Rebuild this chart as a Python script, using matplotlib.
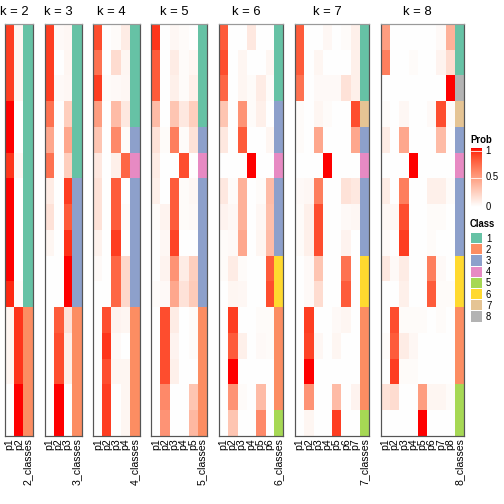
import numpy as np
import matplotlib
matplotlib.use('Agg')
import matplotlib.pyplot as plt
from matplotlib.colors import ListedColormap

plt.rcParams['font.family'] = ['Liberation Sans', 'DejaVu Sans']

# membership probabilities, one row per sample, one column per class
p_k2 = [[0.9, 0.05], [0.9, 0.05], [0.9, 0.05], [1.0, 0.0], [1.0, 0.0], [0.92, 0.04],
        [1.0, 0.0], [1.0, 0.0], [1.0, 0.0], [1.0, 0.0], [0.95, 0.02],
        [0.05, 0.92], [0.05, 0.92], [0.05, 0.92], [0.0, 1.0], [0.0, 1.0]]
cls_k2 = [1, 1, 1, 1, 1, 1, 1, 1, 1, 1, 1, 2, 2, 2, 2, 2]

p_k3 = [[0.9, 0.03, 0.04], [0.9, 0.0, 0.05], [0.9, 0.03, 0.04], [0.7, 0.0, 0.25],
        [0.45, 0.0, 0.45], [0.7, 0.0, 0.25], [0.1, 0.0, 0.9], [0.15, 0.0, 0.8],
        [0.05, 0.0, 0.93], [0.0, 0.0, 1.0], [0.0, 0.0, 1.0], [0.0, 0.8, 0.15],
        [0.0, 0.85, 0.08], [0.0, 0.85, 0.08], [0.0, 1.0, 0.0], [0.0, 1.0, 0.0]]
cls_k3 = [1, 1, 1, 1, 1, 1, 3, 3, 3, 3, 3, 2, 2, 2, 2, 2]

p_k4 = [[0.85, 0.0, 0.02, 0.1], [0.7, 0.0, 0.18, 0.05], [0.9, 0.02, 0.03, 0.04],
        [0.5, 0.0, 0.35, 0.12], [0.3, 0.0, 0.6, 0.02], [0.12, 0.0, 0.08, 0.75],
        [0.15, 0.0, 0.8, 0.0], [0.15, 0.0, 0.8, 0.02], [0.07, 0.0, 0.9, 0.0],
        [0.03, 0.0, 0.75, 0.2], [0.0, 0.0, 0.75, 0.2], [0.0, 0.85, 0.06, 0.05],
        [0.0, 0.92, 0.03, 0.0], [0.0, 0.85, 0.05, 0.05], [0.0, 0.9, 0.0, 0.05],
        [0.0, 0.9, 0.0, 0.05]]
cls_k4 = [1, 1, 1, 1, 3, 4, 3, 3, 3, 3, 3, 2, 2, 2, 2, 2]

p_k5 = [[0.92, 0.0, 0.04, 0.02, 0.0], [0.8, 0.0, 0.1, 0.02, 0.05],
        [0.8, 0.0, 0.08, 0.02, 0.08], [0.35, 0.0, 0.3, 0.12, 0.25],
        [0.15, 0.02, 0.65, 0.02, 0.15], [0.1, 0.0, 0.0, 0.85, 0.0],
        [0.08, 0.0, 0.8, 0.02, 0.04], [0.02, 0.06, 0.8, 0.02, 0.03],
        [0.0, 0.04, 0.88, 0.0, 0.0], [0.0, 0.06, 0.55, 0.1, 0.25],
        [0.02, 0.03, 0.45, 0.15, 0.27], [0.0, 0.85, 0.1, 0.0, 0.02],
        [0.0, 0.85, 0.06, 0.0, 0.02], [0.0, 0.85, 0.08, 0.0, 0.0],
        [0.0, 0.6, 0.0, 0.0, 0.3], [0.0, 0.55, 0.0, 0.0, 0.37]]
cls_k5 = [1, 1, 1, 1, 3, 4, 3, 3, 3, 3, 3, 2, 2, 2, 2, 2]

p_k6 = [[0.8, 0.0, 0.0, 0.12, 0.0, 0.0], [0.85, 0.0, 0.05, 0.0, 0.0, 0.05],
        [0.75, 0.0, 0.05, 0.02, 0.1, 0.02], [0.3, 0.0, 0.55, 0.02, 0.08, 0.0],
        [0.12, 0.0, 0.8, 0.0, 0.0, 0.05], [0.0, 0.0, 0.0, 1.0, 0.0, 0.0],
        [0.12, 0.02, 0.4, 0.0, 0.02, 0.35], [0.06, 0.04, 0.4, 0.0, 0.04, 0.33],
        [0.02, 0.03, 0.45, 0.0, 0.05, 0.35], [0.02, 0.1, 0.02, 0.0, 0.0, 0.8],
        [0.0, 0.05, 0.04, 0.0, 0.0, 0.85], [0.0, 0.9, 0.0, 0.0, 0.02, 0.02],
        [0.0, 0.8, 0.08, 0.0, 0.03, 0.02], [0.0, 1.0, 0.0, 0.0, 0.0, 0.0],
        [0.0, 0.55, 0.02, 0.0, 0.35, 0.0], [0.0, 0.3, 0.0, 0.0, 0.6, 0.0]]
cls_k6 = [1, 1, 1, 3, 3, 4, 3, 3, 3, 6, 6, 2, 2, 2, 2, 5]

p_k7 = [[0.8, 0.0, 0.0, 0.04, 0.0, 0.02, 0.08], [0.8, 0.0, 0.05, 0.0, 0.0, 0.0, 0.08],
        [0.7, 0.0, 0.03, 0.03, 0.03, 0.15, 0.08], [0.02, 0.0, 0.05, 0.02, 0.0, 0.0, 0.85],
        [0.02, 0.0, 0.45, 0.0, 0.0, 0.0, 0.45], [0.0, 0.0, 0.0, 1.0, 0.0, 0.0, 0.0],
        [0.03, 0.04, 0.65, 0.0, 0.0, 0.15, 0.12], [0.02, 0.08, 0.85, 0.0, 0.0, 0.03, 0.04],
        [0.02, 0.08, 0.85, 0.0, 0.0, 0.06, 0.0], [0.0, 0.03, 0.3, 0.0, 0.0, 0.7, 0.0],
        [0.0, 0.03, 0.18, 0.0, 0.0, 0.8, 0.0], [0.0, 0.9, 0.0, 0.0, 0.03, 0.05, 0.0],
        [0.0, 0.88, 0.04, 0.0, 0.05, 0.0, 0.0], [0.0, 1.0, 0.0, 0.0, 0.0, 0.0, 0.0],
        [0.0, 0.55, 0.0, 0.0, 0.35, 0.0, 0.06], [0.0, 0.05, 0.0, 0.0, 0.9, 0.0, 0.0]]
cls_k7 = [1, 1, 1, 7, 3, 4, 3, 3, 3, 6, 6, 2, 2, 2, 2, 5]

p_k8 = [[0.5, 0.0, 0.0, 0.0, 0.0, 0.0, 0.03, 0.4], [0.65, 0.0, 0.0, 0.02, 0.0, 0.0, 0.06, 0.18],
        [0.0, 0.0, 0.0, 0.0, 0.0, 0.0, 0.0, 1.0], [0.02, 0.0, 0.04, 0.0, 0.0, 0.03, 0.85, 0.02],
        [0.1, 0.0, 0.45, 0.0, 0.0, 0.0, 0.35, 0.0], [0.0, 0.0, 0.0, 1.0, 0.0, 0.0, 0.0, 0.0],
        [0.1, 0.0, 0.65, 0.0, 0.0, 0.08, 0.08, 0.02], [0.04, 0.04, 0.85, 0.0, 0.0, 0.02, 0.02, 0.0],
        [0.03, 0.0, 0.9, 0.0, 0.0, 0.02, 0.0, 0.0], [0.12, 0.03, 0.1, 0.0, 0.0, 0.65, 0.03, 0.0],
        [0.0, 0.0, 0.08, 0.0, 0.0, 0.8, 0.02, 0.02], [0.0, 0.85, 0.02, 0.02, 0.02, 0.0, 0.02, 0.0],
        [0.02, 0.8, 0.1, 0.04, 0.0, 0.0, 0.0, 0.0], [0.0, 0.9, 0.02, 0.02, 0.0, 0.0, 0.0, 0.0],
        [0.15, 0.18, 0.0, 0.0, 0.5, 0.05, 0.05, 0.02], [0.0, 0.0, 0.0, 0.0, 1.0, 0.0, 0.0, 0.0]]
cls_k8 = [1, 1, 8, 7, 3, 4, 3, 3, 3, 6, 6, 2, 2, 2, 5, 5]

probs = [p_k2, p_k3, p_k4, p_k5, p_k6, p_k7, p_k8]
classes = [cls_k2, cls_k3, cls_k4, cls_k5, cls_k6, cls_k7, cls_k8]
ks = [2, 3, 4, 5, 6, 7, 8]

class_colors = ['#66C2A5', '#FC8D62', '#8DA0CB', '#E78AC3',
                '#A6D854', '#FFD92F', '#E5C494', '#B3B3B3']


def lab_white_red(n=256):
    # white -> red interpolated in Lab space
    t = np.linspace(0, 1, n)
    L = 100 + (53.24 - 100) * t
    a = 80.09 * t
    b = 67.20 * t
    fy = (L + 16) / 116
    fx = fy + a / 500
    fz = fy - b / 200

    def finv(f):
        return np.where(f > 6 / 29, f ** 3, 3 * (6 / 29) ** 2 * (f - 4 / 29))
    X = 0.95047 * finv(fx)
    Y = finv(fy)
    Z = 1.08883 * finv(fz)
    r = 3.2406 * X - 1.5372 * Y - 0.4986 * Z
    g = -0.9689 * X + 1.8758 * Y + 0.0415 * Z
    bb = 0.0557 * X - 0.2040 * Y + 1.0570 * Z
    rgb = np.clip(np.stack([r, g, bb], axis=1), 0, 1)
    rgb = np.where(rgb > 0.0031308, 1.055 * rgb ** (1 / 2.4) - 0.055, 12.92 * rgb)
    return ListedColormap(np.clip(rgb, 0, 1))


cmap = lab_white_red()
cls_cmap = ListedColormap(class_colors)

W, H = 504, 504
fig = plt.figure(figsize=(W / 72, H / 72), dpi=72)


def px(x0, y0, w, h):
    return [x0 / W, 1 - (y0 + h) / H, w / W, h / H]


top, bottom = 24, 436
colw, gap = 9.25, 11.75
x = 5.0
for k, p, c in zip(ks, probs, classes):
    p = np.array(p)
    n = p.shape[0]
    ax = fig.add_axes(px(x, top, colw * (k + 1), bottom - top))
    ax.imshow(p, cmap=cmap, vmin=0, vmax=1, aspect='auto',
              extent=(0, k, n, 0), interpolation='nearest')
    ax.imshow(np.array(c).reshape(-1, 1) - 1, cmap=cls_cmap, vmin=-0.5, vmax=7.5,
              aspect='auto', extent=(k, k + 1, n, 0), interpolation='nearest')
    ax.set_xlim(0, k + 1)
    ax.set_ylim(n, 0)
    ax.set_yticks([])
    ax.set_xticks(np.arange(k + 1) + 0.5)
    ax.set_xticklabels(['p%d' % (i + 1) for i in range(k)] + ['%d_classes' % k],
                       rotation=90, fontsize=10.5)
    ax.tick_params(axis='x', length=0, pad=2)
    for s in ax.spines.values():
        s.set_color('#555555')
        s.set_linewidth(1.2)
    ax.spines['top'].set_color('#999999')
    ax.annotate('k = %d' % k, xy=(k / 2, 0), xycoords='data', xytext=(0, 6),
                textcoords='offset points', ha='center', va='bottom', fontsize=13)
    x += colw * (k + 1) + gap

# Prob legend
fig.text(470 / W, 1 - 140 / H, 'Prob', fontsize=9.5, fontweight='bold', va='center')
cax = fig.add_axes(px(471, 148, 11, 59))
cax.imshow(np.linspace(1, 0, 100).reshape(-1, 1), cmap=cmap, vmin=0, vmax=1,
           aspect='auto', extent=(0, 1, 0, 1))
for v in [0.5, 0.95]:
    cax.axhline(v, color='white', lw=0.8)
cax.set_xlim(0, 1)
cax.set_ylim(0, 1)
cax.axis('off')
for v, lab in [(0.95, '1'), (0.5, '0.5'), (0.0, '0')]:
    cax.text(1.3, v, lab, fontsize=9.5, va='center', ha='left', transform=cax.transAxes)

# Class legend
fig.text(470 / W, 1 - 224 / H, 'Class', fontsize=9.5, fontweight='bold', va='center')
for i, col in enumerate(class_colors):
    y0 = 233 + i * 11.2
    bax = fig.add_axes(px(471, y0, 11, 10.2))
    bax.set_facecolor(col)
    bax.set_xticks([])
    bax.set_yticks([])
    for s in bax.spines.values():
        s.set_visible(False)
    fig.text(486 / W, 1 - (y0 + 5.5) / H, str(i + 1), fontsize=9.5, va='center')

fig.savefig('out.png', dpi=72)
